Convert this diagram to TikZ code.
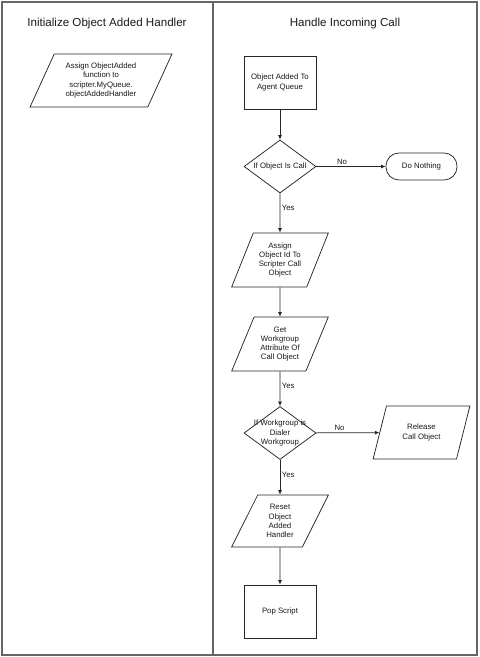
\documentclass[tikz,border=0pt]{standalone}
\usepackage{fontspec}
\setmainfont{Liberation Sans}
\usetikzlibrary{shapes.geometric,arrows.meta}
\begin{document}
\begin{tikzpicture}[x=1pt,y=-1pt,
 every node/.style={font=\fontsize{7.8}{9.2}\selectfont, align=center, text=black!90},
 shp/.style={draw=black!85, line width=0.75pt, inner sep=1pt},
 proc/.style={shp, rectangle, minimum width=72pt, minimum height=53pt},
 io/.style={shp, trapezium, trapezium left angle=64, trapezium right angle=116,
   trapezium stretches=true, minimum width=97pt, minimum height=54pt},
 dec/.style={shp, diamond, minimum width=72pt, minimum height=53pt, inner sep=0pt},
 term/.style={shp, rectangle, rounded corners=13pt, minimum width=71pt, minimum height=27pt},
 flow/.style={draw=black!85, line width=0.75pt, -{Latex[length=4.5pt,width=4pt]}},
 lbl/.style={inner sep=1.5pt},
 title/.style={font=\fontsize{11.6}{13}\selectfont},
 frame/.style={draw=black!60, line width=1.5pt}
]
\useasboundingbox (0,0) rectangle (480,657);
\draw[frame] (2,2) rectangle (477,655);
\coordinate (divtop) at (213,2);
\coordinate (divbot) at (213,655);
\draw[frame, line width=1.2pt] (divtop) -- (divbot);

\node[title] (t1) at (107,23) {Initialize Object Added Handler};
\node[title] (t2) at (345,23) {Handle Incoming Call};

\node[io, minimum width=142pt, minimum height=53pt, trapezium left angle=63, trapezium right angle=117] (init) at (101,80.5)
  {Assign ObjectAdded\\function to\\scripter.MyQueue.\\objectAddedHandler};

\node[proc] (start) at (280,82.5) {Object Added To\\Agent Queue};
\node[dec, label={center:If Object Is Call}] (d1) at (280,166.5) {};
\node[term] (nothing) at (421.5,166.5) {Do Nothing};
\node[io] (p1) at (280,260) {Assign\\Object Id To\\Scripter Call\\Object};
\node[io] (p2) at (280,344) {Get\\Workgroup\\Attribute Of\\Call Object};
\node[dec, label={center:If Workgroup is\\Dialer\\Workgroup}] (d2) at (280,433) {};
\node[io, trapezium left angle=67.5, trapezium right angle=112.5, minimum height=53pt] (rel) at (421.5,432.5) {Release\\Call Object};
\node[io, minimum height=52pt] (p3) at (280,521) {Reset\\Object\\Added\\Handler};
\node[proc] (pop) at (280,611.5) {Pop Script};

\draw[flow] (start) -- (d1);
\draw[flow] (d1) -- node[lbl, pos=0.37, above] {No} (nothing);
\draw[flow] (d1) -- node[lbl, pos=0.37, right] {Yes} (p1);
\draw[flow] (p1) -- (p2);
\draw[flow] (p2) -- node[lbl, pos=0.42, right] {Yes} (d2);
\draw[flow] (d2) -- node[lbl, pos=0.37, above] {No} (rel);
\draw[flow] (d2) -- node[lbl, pos=0.42, right] {Yes} (p3);
\draw[flow] (p3) -- (pop);
\end{tikzpicture}
\end{document}
